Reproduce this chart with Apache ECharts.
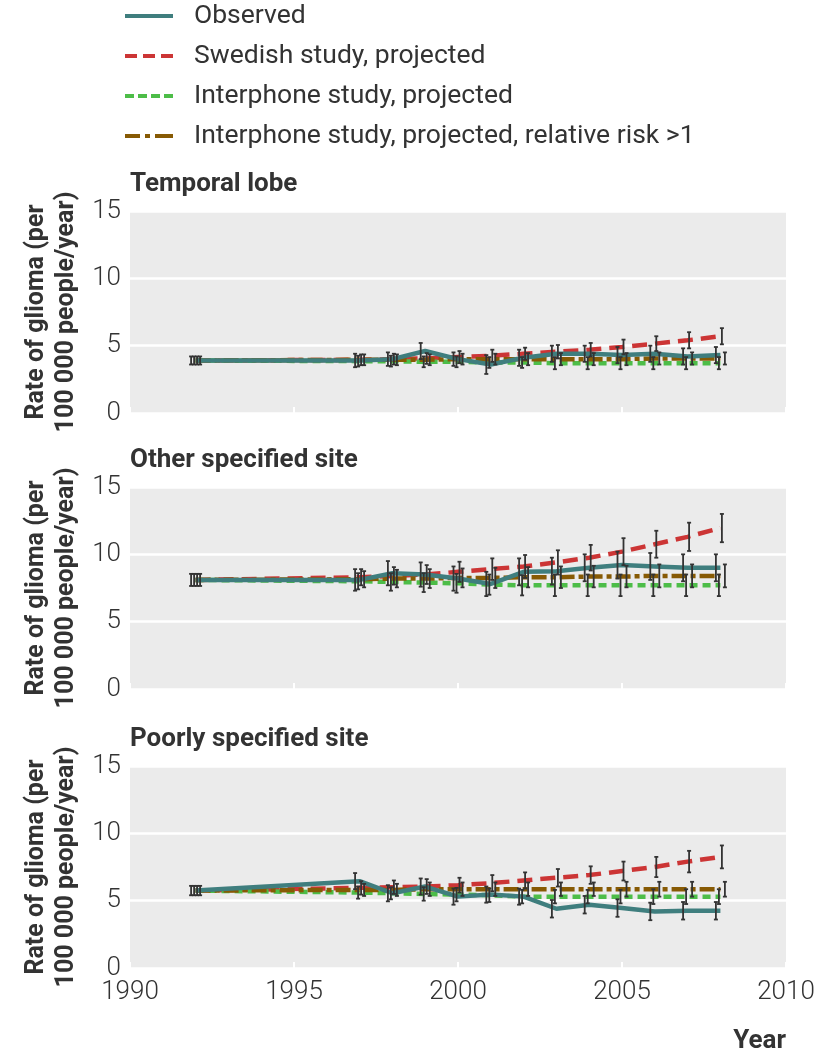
<!DOCTYPE html>
<html><head><meta charset="utf-8">
<script src="https://cdn.jsdelivr.net/npm/echarts/dist/echarts.min.js"></script>
<style>html,body{margin:0;padding:0;background:#fff}#c{width:820px;height:1056px}</style>
</head><body><div id="c"></div>
<script>
// ---------- data ----------
const years = [1992, 1997, 1998, 1999, 2000, 2001, 2002, 2003, 2004, 2005, 2006, 2007, 2008];
const xTickLabels = [1990, 1995, 2000, 2005, 2010];
const yTickLabels = [0, 5, 10, 15];
const panelTitles = ['Temporal lobe', 'Other specified site', 'Poorly specified site'];
const seriesNames = ['Observed', 'Swedish study, projected', 'Interphone study, projected', 'Interphone study, projected, relative risk >1'];
const yAxisTitle = 'Rate of glioma (per\n100 000 people/year)';

// Temporal lobe
const temporalObserved   = [3.9, 3.9, 4.0, 4.6, 4.0, 3.6, 4.1, 4.4, 4.4, 4.3, 4.4, 4.2, 4.3];
const temporalObsErr     = [0.3, 0.5, 0.5, 0.6, 0.5, 0.7, 0.6, 0.6, 0.6, 0.6, 0.6, 0.6, 0.6];
const temporalSwedish    = [3.9, 3.95, 4.0, 4.05, 4.15, 4.25, 4.4, 4.55, 4.7, 4.9, 5.15, 5.4, 5.7];
const temporalSwedishErr = [0.3, 0.4, 0.4, 0.4, 0.45, 0.45, 0.45, 0.5, 0.5, 0.55, 0.55, 0.6, 0.6];
const temporalInter      = [3.9, 3.85, 3.85, 3.8, 3.8, 3.75, 3.75, 3.7, 3.7, 3.7, 3.7, 3.7, 3.7];
const temporalInterErr   = [0.3, 0.4, 0.4, 0.4, 0.4, 0.4, 0.4, 0.45, 0.45, 0.45, 0.45, 0.45, 0.45];
const temporalInterRR    = [3.9, 3.95, 3.95, 3.95, 4.0, 4.0, 4.0, 4.0, 4.0, 4.0, 4.05, 4.05, 4.05];
const temporalInterRRErr = [0.3, 0.4, 0.4, 0.4, 0.4, 0.4, 0.45, 0.45, 0.45, 0.45, 0.45, 0.45, 0.45];

// Other specified site
const otherObserved   = [8.1, 8.1, 8.6, 8.5, 8.2, 7.8, 8.7, 8.75, 9.0, 9.2, 9.1, 9.0, 9.0];
const otherObsErr     = [0.45, 0.8, 0.9, 0.9, 0.9, 0.9, 1.0, 1.0, 1.0, 1.0, 1.0, 1.0, 1.0];
const otherSwedish    = [8.1, 8.3, 8.4, 8.5, 8.7, 8.9, 9.1, 9.4, 9.75, 10.2, 10.75, 11.3, 11.95];
const otherSwedishErr = [0.45, 0.6, 0.65, 0.7, 0.75, 0.8, 0.85, 0.9, 0.95, 1.0, 1.0, 1.05, 1.05];
const otherInter      = [8.1, 8.0, 7.95, 7.9, 7.85, 7.75, 7.7, 7.7, 7.7, 7.7, 7.7, 7.7, 7.7];
const otherInterErr   = [0.45, 0.6, 0.65, 0.7, 0.7, 0.75, 0.75, 0.8, 0.8, 0.8, 0.8, 0.8, 0.8];
const otherInterRR    = [8.1, 8.15, 8.2, 8.2, 8.25, 8.25, 8.3, 8.3, 8.35, 8.35, 8.4, 8.4, 8.4];
const otherInterRRErr = [0.45, 0.6, 0.65, 0.7, 0.7, 0.75, 0.75, 0.8, 0.8, 0.8, 0.85, 0.85, 0.85];

// Poorly specified site
const poorObserved   = [5.75, 6.45, 5.55, 6.05, 5.3, 5.45, 5.3, 4.4, 4.7, 4.45, 4.2, 4.25, 4.25];
const poorObsErr     = [0.35, 0.6, 0.6, 0.6, 0.6, 0.6, 0.6, 0.65, 0.65, 0.65, 0.65, 0.65, 0.65];
const poorSwedish    = [5.75, 5.95, 6.0, 6.05, 6.15, 6.3, 6.5, 6.7, 6.9, 7.2, 7.5, 7.9, 8.25];
const poorSwedishErr = [0.35, 0.5, 0.5, 0.55, 0.55, 0.6, 0.6, 0.65, 0.65, 0.7, 0.75, 0.8, 0.85];
const poorInter      = [5.75, 5.6, 5.55, 5.5, 5.45, 5.4, 5.3, 5.3, 5.3, 5.3, 5.3, 5.3, 5.3];
const poorInterErr   = [0.35, 0.45, 0.45, 0.5, 0.5, 0.5, 0.5, 0.5, 0.5, 0.5, 0.55, 0.55, 0.55];
const poorInterRR    = [5.75, 5.8, 5.8, 5.85, 5.85, 5.85, 5.85, 5.85, 5.85, 5.85, 5.85, 5.85, 5.85];
const poorInterRRErr = [0.35, 0.45, 0.45, 0.5, 0.5, 0.5, 0.5, 0.5, 0.5, 0.55, 0.55, 0.55, 0.55];

// ---------- build ----------
const panels = [
  { obs: temporalObserved, obsErr: temporalObsErr, sw: temporalSwedish, swErr: temporalSwedishErr,
    it: temporalInter, itErr: temporalInterErr, rr: temporalInterRR, rrErr: temporalInterRRErr },
  { obs: otherObserved, obsErr: otherObsErr, sw: otherSwedish, swErr: otherSwedishErr,
    it: otherInter, itErr: otherInterErr, rr: otherInterRR, rrErr: otherInterRRErr },
  { obs: poorObserved, obsErr: poorObsErr, sw: poorSwedish, swErr: poorSwedishErr,
    it: poorInter, itErr: poorInterErr, rr: poorInterRR, rrErr: poorInterRRErr }
];

const TXT = 'Roboto, "Noto Sans", sans-serif';
const colors = ['#3f7e7e', '#cc3535', '#4dbd48', '#875a04'];
const lineTypes = ['solid', [15, 8], [8, 5], [15, 4, 5, 4]];
const legendIcons = [
  'path://M0,0h48v4h-48z',
  'path://M0,0h12v4h-12zM18,0h12v4h-12zM36,0h12v4h-12z',
  'path://M0,0h9v4h-9zM13,0h9v4h-9zM26,0h9v4h-9zM39,0h9v4h-9z',
  'path://M0,0h15v4h-15zM20,0h5v4h-5zM30,0h18v4h-18z'
];
const gridTops = [211, 487, 766];
const gridH = 202;

const grids = [], xAxes = [], yAxes = [], series = [], titles = [];
panels.forEach((p, i) => {
  grids.push({ left: 130, right: 34, top: gridTops[i], height: gridH, show: true,
    backgroundColor: '#ebebeb', borderWidth: 0 });
  titles.push({ text: panelTitles[i], left: 130, top: gridTops[i] - 40, padding: 0,
    textStyle: { fontFamily: TXT, fontSize: 26, fontWeight: 'bold', color: '#333' } });
  xAxes.push({ type: 'value', gridIndex: i, min: xTickLabels[0], max: xTickLabels[xTickLabels.length - 1], interval: 5,
    axisLine: { show: false },
    axisTick: { show: true, inside: true, length: 6, lineStyle: { color: '#fff', width: 2 } },
    splitLine: { show: false },
    axisLabel: { show: i === 2, fontFamily: TXT, fontWeight: 300, fontSize: 26, color: '#333', margin: 11,
      formatter: v => xTickLabels.includes(v) ? String(v) : '' } });
  yAxes.push({ type: 'value', gridIndex: i, min: yTickLabels[0], max: yTickLabels[yTickLabels.length - 1], interval: 5,
    name: yAxisTitle, nameLocation: 'middle', nameRotate: 90, nameGap: 40,
    nameTextStyle: { fontFamily: TXT, fontSize: 25, fontWeight: 'bold', color: '#333', lineHeight: 30 },
    axisLine: { show: false }, axisTick: { show: false },
    splitLine: { show: true, lineStyle: { color: '#fff', width: 2.5 } },
    axisLabel: { fontFamily: TXT, fontWeight: 300, fontSize: 26, color: '#333', margin: 9,
      formatter: v => yTickLabels.includes(v) ? String(v) : '' } });

  const sets = [[p.obs, p.obsErr], [p.sw, p.swErr], [p.it, p.itErr], [p.rr, p.rrErr]];
  const order = [1, 2, 3, 0]; // observed drawn on top
  order.forEach(k => {
    series.push({ name: seriesNames[k], type: 'line', xAxisIndex: i, yAxisIndex: i,
      data: years.map((y, j) => [y, sets[k][0][j]]),
      showSymbol: false, symbol: 'none', z: 3 + (k === 0 ? 1 : 0),
      lineStyle: { color: colors[k], width: 4.5, type: lineTypes[k] }, itemStyle: { color: colors[k] } });
  });
  const offsets = [-4.5, 1.5, -1.5, 4.5];
  [0, 1, 2, 3].forEach(k => {
    const off = offsets[k];
    series.push({ type: 'custom', xAxisIndex: i, yAxisIndex: i, z: 6, silent: true,
      data: years.map((y, j) => [y, sets[k][0][j] - sets[k][1][j], sets[k][0][j] + sets[k][1][j]]),
      encode: { x: 0, y: [1, 2] },
      renderItem: (params, api) => {
        const lo = api.coord([api.value(0), api.value(1)]);
        const hi = api.coord([api.value(0), api.value(2)]);
        const cx = lo[0] + off, c = 2;
        const st = { stroke: '#333', lineWidth: 1.8 };
        return { type: 'group', children: [
          { type: 'line', shape: { x1: cx, y1: lo[1], x2: cx, y2: hi[1] }, style: st },
          { type: 'line', shape: { x1: cx - c, y1: lo[1], x2: cx + c, y2: lo[1] }, style: st },
          { type: 'line', shape: { x1: cx - c, y1: hi[1], x2: cx + c, y2: hi[1] }, style: st }
        ] };
      } });
  });
});

const chart = echarts.init(document.getElementById('c'), null, { renderer: 'canvas' });
chart.setOption({
  animation: false,
  title: titles,
  legend: { data: seriesNames.map((n, k) => ({ name: n, icon: legendIcons[k] })),
    orient: 'vertical', left: 125, top: 1, padding: 0, itemWidth: 48, itemHeight: 4, itemGap: 10, itemTextGap: 20,
    textStyle: { fontFamily: TXT, fontSize: 26.5, color: '#333', lineHeight: 30, padding: [0, 0, 0, 16] } },
  grid: grids, xAxis: xAxes, yAxis: yAxes, series: series,
  graphic: [{ type: 'text', right: 34, top: 1028,
    style: { text: 'Year', font: 'bold 26px ' + TXT, fill: '#333' } }]
});
</script></body></html>
